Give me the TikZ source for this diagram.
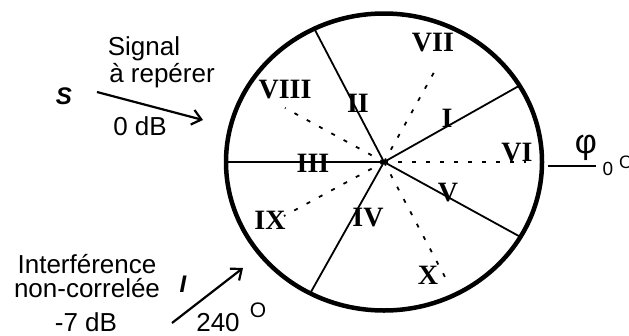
\documentclass[tikz,border=0pt]{standalone}
\usepackage{fontspec}
\setmainfont{Liberation Sans}
\newfontfamily\numfont{Liberation Serif}
\usetikzlibrary{arrows.meta}
\begin{document}
\begin{tikzpicture}[x=1pt,y=-1pt,
  lbl/.style={font=\fontsize{26}{28}\selectfont, inner sep=0pt, anchor=base},
  rom/.style={font=\numfont\bfseries\fontsize{28}{29}\selectfont, inner sep=0pt},
  ital/.style={font=\bfseries\itshape\fontsize{24}{26}\selectfont, inner sep=0pt},
  spoke/.style={line width=1.8pt},
  dotline/.style={line width=1.8pt, dash pattern=on 4pt off 10pt},
  arr/.style={line width=2.2pt, -{Straight Barb[length=9pt,width=15pt,line width=2.2pt]}},
  rim/.style={line width=4.5pt}]
\useasboundingbox (0,0) rectangle (629,335);

% centre and spoke ends
\coordinate (C) at (384,162);
\coordinate (eUL) at (314.3,28.7);
\coordinate (eL) at (226,162);
\coordinate (eLL) at (310.2,293.3);
\coordinate (eUR) at (519.5,85.6);
\coordinate (eLR) at (520.4,236.9);
% dotted ends
\coordinate (dVI) at (526,162);
\coordinate (dVII) at (437,67);
\coordinate (dX) at (445,277);
\coordinate (dVIII) at (285,108);
\coordinate (dIX) at (284,216);

\draw[dotline] (C) -- (dVI);
\draw[dotline] (C) -- (dVII);
\draw[dotline] (C) -- (dX);
\draw[dotline] (C) -- (dVIII);
\draw[dotline] (C) -- (dIX);

\draw[spoke] (C) -- (eUL);
\draw[spoke] (C) -- (eL);
\draw[spoke] (C) -- (eLL);
\draw[spoke] (C) -- (eUR);
\draw[spoke] (C) -- (eLR);

\draw[rim] (C) ellipse [x radius=158, y radius=148.5];

% sector labels
\node[rom] (nVII) at (433,43) {VII};
\node[rom] (nI) at (447,118) {I};
\node[rom] (nVI) at (517,153) {VI};
\node[rom] (nV) at (448,193) {V};
\node[rom] (nX) at (428,275) {X};
\node[rom] (nVIII) at (285,90) {VIII};
\node[rom] (nII) at (358,103) {II};
\node[rom] (nIII) at (313,163) {III};
\node[rom] (nIX) at (270,220) {IX};
\node[rom] (nIV) at (368,218) {IV};

% signal S
\node[ital] (S) at (64,96) {S};
\node[lbl] (sig1) at (144,55) {Signal};
\node[lbl] (sig2) at (162,82) {à repérer};
\node[lbl] (sig3) at (140,135) {0 dB};
\coordinate (sA) at (97,92);
\coordinate (sB) at (203,120);
\draw[arr] (sA) -- (sB);

% interference I
\node[lbl] (int1) at (87,273) {Interférence};
\node[lbl] (int2) at (87,297) {non-correlée};
\node[lbl] (int3) at (86,331) {-7 dB};
\node[ital] (I) at (183,284) {I};
\coordinate (iA) at (172,323);
\coordinate (iB) at (243,268);
\draw[arr] (iA) -- (iB);
\node[lbl] (ang) at (218,331) {240};
\node[font=\fontsize{21}{23}\selectfont, inner sep=0pt, anchor=base] (deg) at (258,317) {O};

% phi axis
\coordinate (pA) at (548,166);
\coordinate (pB) at (596,166);
\draw[line width=1.8pt] (pA) -- (pB);
\node[font=\fontsize{34}{36}\selectfont, inner sep=0pt] (phi) at (586,148) {φ};
\node[font=\fontsize{19}{21}\selectfont, inner sep=0pt, anchor=base] (zero) at (608,175) {0};
\node[font=\fontsize{18}{20}\selectfont, inner sep=0pt, anchor=base west] (deg2) at (619,168) {O};
\end{tikzpicture}
\end{document}
